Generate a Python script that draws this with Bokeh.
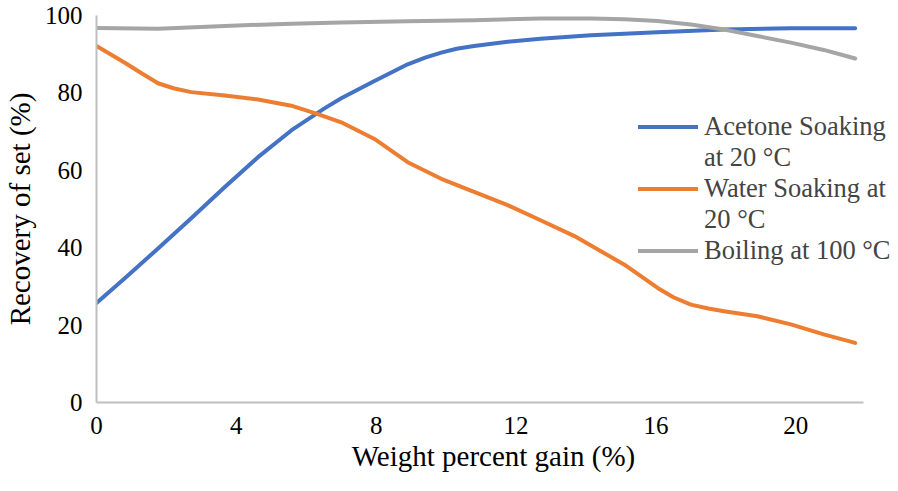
from bokeh.plotting import figure
from bokeh.models import Range1d, Legend, LegendItem, FixedTicker
from bokeh.embed import file_html
from bokeh.resources import INLINE

acetone_x = [0, 0.81, 1.76, 2.71, 3.67, 4.62, 5.57, 6.52, 7.0, 7.95, 8.9, 9.4, 9.86, 10.3, 10.8, 11.76, 12.7, 14.14, 16.05, 17.95, 19.86, 21.7]
acetone_y = [25.7, 32.1, 39.8, 47.6, 55.7, 63.4, 70.3, 76.0, 78.6, 83.1, 87.4, 89.1, 90.4, 91.4, 92.1, 93.2, 94.0, 94.9, 95.7, 96.4, 96.7, 96.7]
water_x = [0, 0.81, 1.3, 1.76, 2.2, 2.71, 3.67, 4.62, 5.57, 6.33, 7.0, 7.95, 8.9, 9.86, 10.8, 11.76, 12.7, 13.67, 15.1, 16.05, 16.5, 17.0, 17.5, 17.95, 18.9, 19.86, 20.8, 21.7]
water_y = [92.1, 87.8, 85.0, 82.5, 81.2, 80.2, 79.3, 78.3, 76.7, 74.5, 72.4, 68.1, 62.1, 57.8, 54.4, 51.0, 47.1, 43.0, 35.6, 29.6, 27.2, 25.3, 24.3, 23.6, 22.3, 20.2, 17.6, 15.4]
boiling_x = [0, 1.76, 3.67, 5.57, 7.0, 8.9, 10.8, 12.7, 14.14, 15.1, 16.05, 17.0, 17.95, 18.9, 19.86, 20.8, 21.7]
boiling_y = [96.8, 96.6, 97.3, 97.9, 98.2, 98.5, 98.8, 99.2, 99.2, 99.0, 98.6, 97.7, 96.4, 94.7, 93.0, 91.1, 88.9]

series_labels = [["Acetone Soaking", "at 20 °C"], ["Water Soaking at", "20 °C"], ["Boiling at 100 °C"]]
colors = ["#4472C4", "#ED7D31", "#A5A5A5"]
x_ticks = [0, 4, 8, 12, 16, 20]
y_ticks = [0, 20, 40, 60, 80, 100]

FONT = "'Liberation Serif', 'Times New Roman', serif"

p = figure(width=890, height=483, output_backend="svg", toolbar_location=None,
           x_range=Range1d(0, 22.71), y_range=Range1d(0, 100),
           min_border_left=95, min_border_right=0, min_border_top=15, min_border_bottom=81)
p.outline_line_color = None
p.xgrid.visible = False
p.ygrid.visible = False

renderers = []
for xs, ys, c in zip([acetone_x, water_x, boiling_x], [acetone_y, water_y, boiling_y], colors):
    r = p.line(xs, ys, line_color=c, line_width=4, line_cap="round", line_join="round")
    renderers.append(r)

# invisible renderer used for continuation lines of wrapped legend labels
blank = p.line([], [], line_alpha=0)

for ax in (p.xaxis[0], p.yaxis[0]):
    ax.axis_line_color = "#BFBFBF"
    ax.axis_line_width = 2
    ax.major_tick_line_color = None
    ax.minor_tick_line_color = None
    ax.major_tick_out = 0
    ax.major_tick_in = 0
    ax.minor_tick_out = 0
    ax.minor_tick_in = 0
    ax.major_label_text_font = FONT
    ax.major_label_text_font_size = "25px"
    ax.major_label_text_color = "black"
    ax.axis_label_text_font = FONT
    ax.axis_label_text_font_size = "29px"
    ax.axis_label_text_font_style = "normal"
    ax.axis_label_text_color = "black"

p.xaxis.ticker = FixedTicker(ticks=x_ticks)
p.yaxis.ticker = FixedTicker(ticks=y_ticks)
p.xaxis.bounds = (0, 21.94)
p.xaxis.axis_label = "Weight percent gain (%)"
p.yaxis.axis_label = "Recovery of set (%)"
p.xaxis.major_label_standoff = 14
p.yaxis.major_label_standoff = 14
p.xaxis.axis_label_standoff = 3
p.yaxis.axis_label_standoff = 6

items = []
for labels, r in zip(series_labels, renderers):
    items.append(LegendItem(label=labels[0], renderers=[r]))
    for extra in labels[1:]:
        items.append(LegendItem(label=extra, renderers=[blank]))

legend = Legend(items=items, location=(542, 136), padding=0, margin=0, spacing=0,
                glyph_width=60, glyph_height=31, label_height=31, label_standoff=6,
                label_text_font=FONT, label_text_font_size="26.5px",
                label_text_line_height=1.0,
                background_fill_alpha=0, border_line_alpha=0)
p.add_layout(legend, "center")

open("out.html", "w").write(file_html(p, INLINE))
